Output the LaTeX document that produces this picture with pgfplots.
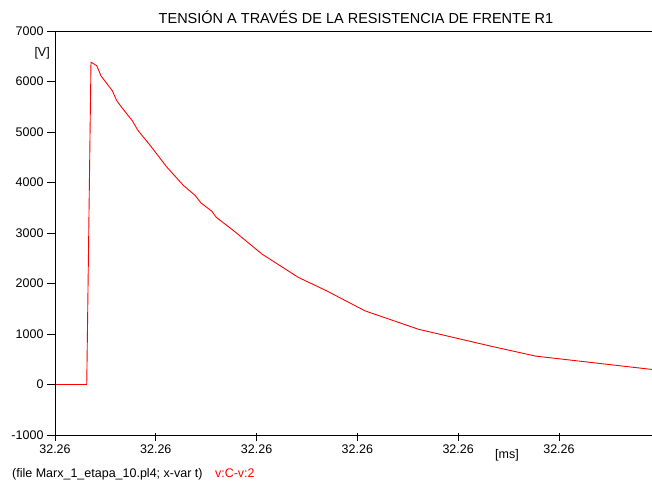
\documentclass[border=0pt]{standalone}
\usepackage{fontspec}
\setmainfont{Liberation Sans}
\usepackage{pgfplots}
\pgfplotsset{compat=1.18}
\begin{document}
\begin{tikzpicture}
\path[use as bounding box] (-55pt,-48pt) rectangle (597pt,435pt);
\begin{axis}[
  name=ax,
  at={(0,0)}, anchor=south west,
  scale only axis, width=597pt, height=404pt,
  xmin=0, xmax=5.923, ymin=-1000, ymax=7000,
  xtick={0,1,2,3,4,5},
  xticklabels={32.26,32.26,32.26,32.26,32.26,32.26},
  ytick={-1000,0,1000,2000,3000,4000,5000,6000,7000},
  xtick pos=bottom, ytick pos=left,
  tick align=outside,
  major tick length=8pt,
  major x tick style={black, line width=0.8pt, yshift=2pt},
  major y tick style={black, line width=0.8pt},
  axis line style={draw=none},
  /pgf/number format/assume math mode=true,
  /pgf/number format/1000 sep={},
  ticklabel style={font=\fontsize{12.5}{14}\selectfont},
  xticklabel style={yshift=2pt},
  yticklabel style={xshift=0pt},
]
\addplot[red, line width=0.9pt] coordinates {
(0,0) (0.315,0) (0.357,6382) (0.414,6314) (0.457,6109) (0.513,5964)
(0.569,5817) (0.613,5618) (0.678,5447) (0.768,5221) (0.821,5036)
(0.943,4738) (1.109,4306) (1.274,3942) (1.390,3744) (1.447,3598)
(1.556,3431) (1.599,3312) (1.771,3048) (2.053,2584) (2.234,2352)
(2.416,2119) (2.681,1869) (3.078,1457) (3.608,1093) (4.320,761)
(4.767,563) (5.923,298)
};
\end{axis}
\draw[black, line width=0.9pt] (ax.north east) -- (ax.north west) -- (ax.south west) -- (ax.south east);
\node[font=\fontsize{14.5}{16}\selectfont, anchor=base] at (301pt,411pt) {TENSIÓN A TRAVÉS DE LA RESISTENCIA DE FRENTE R1};
\node[font=\fontsize{12.5}{14}\selectfont, anchor=east, inner sep=0pt] at (-5pt,382pt) {[V]};
\node[font=\fontsize{12.5}{14}\selectfont, anchor=west, inner sep=0pt] at (440pt,-20pt) {[ms]};
\node[font=\fontsize{12.5}{14}\selectfont, anchor=west, inner sep=0pt] at (-43pt,-39pt) {(file Marx\_1\_etapa\_10.pl4; x-var t)\quad\textcolor{red}{v:C-v:2}};
\end{tikzpicture}
\end{document}
